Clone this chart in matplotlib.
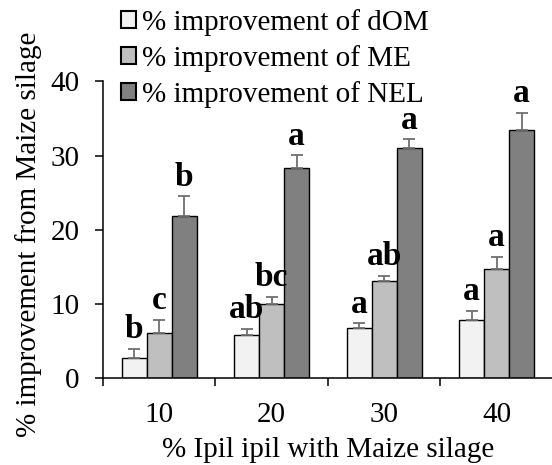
import matplotlib
matplotlib.use("Agg")
import matplotlib.pyplot as plt
import numpy as np

plt.rcParams['font.family'] = ['Liberation Serif', 'DejaVu Serif']

# Ipil ipil inclusion levels (%)
levels = ["10", "20", "30", "40"]
series_names = ["% improvement of dOM", "% improvement of ME", "% improvement of NEL"]

# Mean improvement over maize silage (%)
dom = [2.7, 5.8, 6.8, 7.9]
me = [6.1, 10.0, 13.1, 14.7]
nel = [21.9, 28.4, 31.0, 33.5]

# Upper error (SE)
dom_err = [1.3, 0.9, 0.65, 1.2]
me_err = [1.8, 1.0, 0.75, 1.7]
nel_err = [2.6, 1.65, 1.2, 2.3]

# Significance letters
dom_sig = ["b", "ab", "a", "a"]
me_sig = ["c", "bc", "ab", "a"]
nel_sig = ["b", "a", "a", "a"]

colors = ["#f2f2f2", "#bfbfbf", "#808080"]

fig = plt.figure(figsize=(5.52, 4.65), dpi=100)
ax = fig.add_axes([0.1866, 0.1865, 0.815, 0.6383])

x = np.arange(len(levels))
bw = 0.222
groups = [(dom, dom_err, dom_sig), (me, me_err, me_sig), (nel, nel_err, nel_sig)]
for i, (vals, errs, sig) in enumerate(groups):
    pos = x + (i - 1) * bw
    ax.bar(pos, vals, width=bw, color=colors[i], edgecolor="black",
           linewidth=1.0, label=series_names[i], zorder=2)
    ax.errorbar(pos, vals, yerr=[np.zeros(len(vals)), errs], fmt="none",
                ecolor="#707070", elinewidth=1.3, capsize=4.3, capthick=1.3,
                zorder=3)
    for p, v, e, s in zip(pos, vals, errs, sig):
        ax.annotate(s, (p, v + e), xytext=(0, 7.5), textcoords="offset points",
                    ha="center", va="baseline", fontsize=24, fontweight="bold")

ax.set_xlim(-0.5, len(levels) - 0.5)
ax.set_ylim(0, 40)
ax.set_yticks([0, 10, 20, 30, 40])
ax.set_xticks(x)
ax.set_xticklabels(levels)
ax.set_xticks(np.arange(len(levels) + 1) - 0.5, minor=True)

for side in ["top", "right"]:
    ax.spines[side].set_visible(False)
for side in ["left", "bottom"]:
    ax.spines[side].set_linewidth(1.1)

ax.tick_params(axis="y", direction="out", length=5.8, width=1.1,
               labelsize=21, pad=11)
ax.tick_params(axis="x", which="major", length=0, labelsize=21, pad=17)
ax.tick_params(axis="x", which="minor", direction="out", length=5.5, width=1.1)

ax.set_xlabel("% Ipil ipil with Maize silage", fontsize=21, labelpad=6.5)
ax.set_ylabel("% improvement from Maize silage", fontsize=21)
ax.yaxis.set_label_coords(-0.135, 0.485)

leg = ax.legend(loc="upper left", bbox_to_anchor=(0.041, 1.245), frameon=False,
                fontsize=21, handlelength=0.5, handleheight=0.5,
                handletextpad=0.2, labelspacing=0.31, borderaxespad=0,
                borderpad=0)
for h in leg.legend_handles:
    h.set_linewidth(1.5)

fig.savefig("out.png", dpi=100)
